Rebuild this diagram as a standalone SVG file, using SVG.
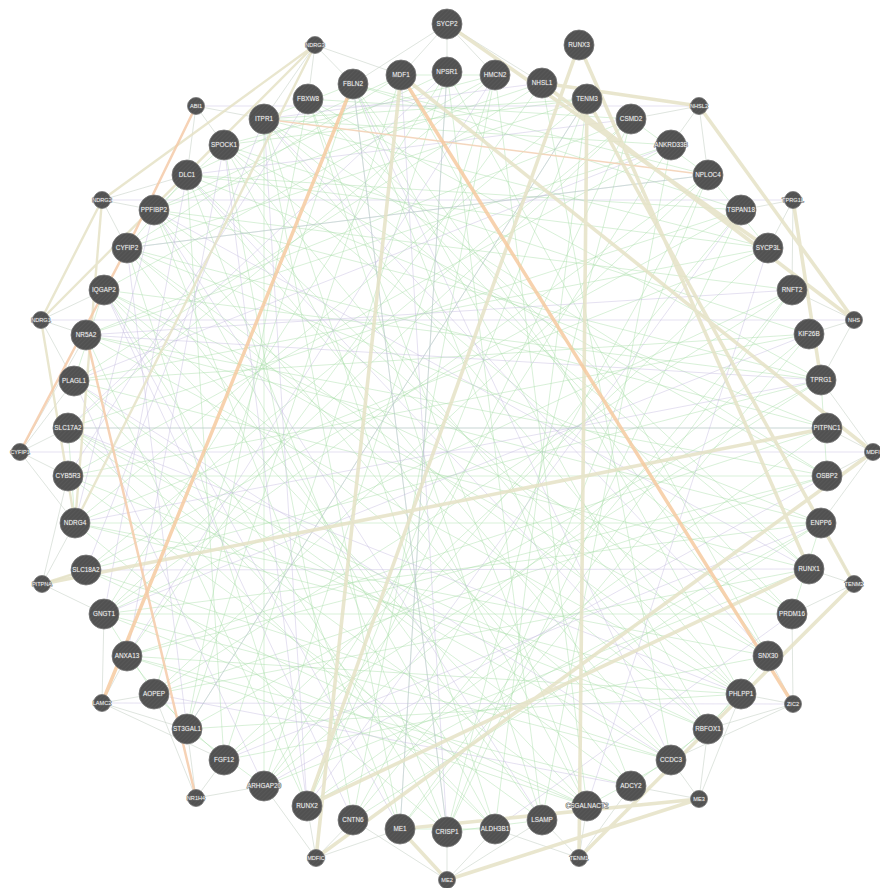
<svg xmlns="http://www.w3.org/2000/svg" width="880" height="888" viewBox="0 0 880 888">
<defs>
<pattern id="hatch" width="3" height="3" patternUnits="userSpaceOnUse" patternTransform="rotate(45)">
<rect width="3" height="3" fill="#515151"/>
<line x1="0" y1="0" x2="0" y2="3" stroke="#5e5e5e" stroke-width="1"/>
</pattern>
</defs>
<style>
.g{fill:none;stroke:#a6dca6;stroke-width:0.8;stroke-opacity:0.55}
.p{fill:none;stroke:#c4bade;stroke-width:0.8;stroke-opacity:0.55}
.s{fill:none;stroke:#cdd6cd;stroke-width:0.8;stroke-opacity:0.8}
.b{fill:none;stroke:#e5e2c6;stroke-width:3.6;stroke-opacity:0.85;stroke-linecap:round}
.bt{fill:none;stroke:#e5e2c6;stroke-width:2.4;stroke-opacity:0.85}
.o{fill:none;stroke:#f6caa0;stroke-width:3.5;stroke-opacity:0.85}
.ot{fill:none;stroke:#f3d2b6;stroke-width:1.3;stroke-opacity:0.9}
.node circle{fill:url(#hatch);stroke:#767676;stroke-width:0.8}
.node text{font-family:"Liberation Sans",Arial,sans-serif;fill:#f4f4f4;text-anchor:middle;stroke:#666666;stroke-width:1.1;paint-order:stroke;stroke-linejoin:round}
.L text{font-size:6.4px}
.S text{font-size:5.6px}
</style>
<rect width="880" height="888" fill="#ffffff"/>
<g id="connectors">
<path class="g" d="M401 75L741 694M401 75L187 729M401 75L127 248M447 72L768 656M447 72L104 614M447 72L400 829M495 75L587 806M495 75L68 428M495 75L264 786M542 83L671 760M542 83L154 210M542 83L127 656M587 99L307 806M587 99L224 145M587 99L75 523M631 119L447 832M631 119L86 335M631 119L104 614M671 145L264 786M671 145L264 119M671 145L542 820M708 175L154 694M708 175L127 248M708 175L353 820M741 210L86 570M741 210L353 84M741 210L447 832M768 248L224 760M768 248L74 381M768 248L187 175M792 290L104 614M792 290L154 210M792 290L400 829M809 334L68 476M809 334L224 145M809 334L264 786M821 380L187 729M821 380L104 290M821 380L308 99M827 428L68 428M827 428L187 175M827 428L307 806M827 476L127 656M827 476L264 119M827 476L86 335M821 523L75 523M821 523L127 248M821 523L353 820M809 569L74 381M809 569L308 99M809 569L154 694M792 614L104 290M792 614L104 614M792 614L224 145M768 656L154 210M768 656L75 523M768 656L224 760M741 694L86 335M741 694L264 119M741 694L127 656M708 729L127 248M708 729L68 476M708 729L353 84M671 760L187 175M671 760L68 428M671 760L104 614M631 786L154 210M631 786L353 84M631 786L74 381M587 806L224 145M587 806L104 290M587 806L86 570M542 820L308 99M542 820L127 248M542 820L447 72M495 829L264 119M495 829L587 99M495 829L68 428M447 832L187 175M447 832L708 175M447 832L104 290M400 829L154 210M400 829L809 334M400 829L264 119M353 820L224 145M353 820L792 290M353 820L495 75M307 806L127 248M307 806L821 523M307 806L631 119M264 786L264 119M264 786L809 569M264 786L741 210M224 760L187 175M224 760L447 72M224 760L821 380M187 729L308 99M187 729L741 694M187 729L587 99M154 694L353 84M154 694L792 290M154 694L827 476M127 656L587 806M127 656L631 786M127 656L827 428M104 614L708 175M104 614L587 806M104 614L821 523M86 570L631 119M86 570L671 760M86 570L821 380M75 523L768 248M75 523L447 832M75 523L741 694M68 476L671 145M68 476L827 476M68 476L542 820M68 428L741 210M68 428L708 729M68 428L587 806M74 381L809 334M74 381L495 829M74 381L542 83M86 335L821 523M86 335L671 145M86 335L307 806M104 290L768 656M104 290L495 75M104 290L671 760M127 248L587 99M127 248L741 694M127 248L827 428M154 210L447 72M154 210L821 380M154 210L495 829M187 175L401 75M187 175L741 694M187 175L741 210M224 145L495 75M224 145L827 476M224 145L708 729M264 119L768 248M264 119L809 569M264 119L587 99M308 99L631 119M308 99L792 614M308 99L587 806M353 84L708 175M353 84L768 656M353 84L447 832M187 729L127 656M154 694L104 614M264 786L187 729M224 760L154 694M768 656L708 729M741 694L671 760M708 729L631 786M671 760L587 806M708 175L768 248M631 119L708 175M154 210L224 145M127 248L187 175M74 381L104 290M75 523L68 428M821 380L827 476M821 523L792 614M495 829L400 829M542 820L447 832M401 75L495 75M264 119L353 84"/>
<path class="p" d="M401 75L447 832M447 72L68 428M495 75L127 656M587 99L187 729M671 145L74 381M741 210L307 806M792 290L86 335M821 380L75 523M827 476L264 786M809 569L86 570M768 656L264 119M708 729L187 175M631 786L154 694M542 820L154 210M447 832L353 84M353 820L104 290M264 786L74 381M187 729L127 248M127 656L224 145M86 570L264 119M68 476L308 99M68 428L827 428M86 335L821 380M127 248L708 175M187 175L631 119M264 119L542 83M353 84L671 760M809 334L104 614M821 523L224 760M792 614L495 829M741 694L68 428M587 806L768 248M400 829L447 72M307 806L264 119M104 614L187 175M75 523L154 210M74 381L671 760M104 290L400 829M154 210L809 569M224 145L307 806M196 106L699 106M41 320L854 320M102 703L793 704M102 200L793 200M20 452L873 452"/>
<path class="s" d="M102 703L104 614M102 703L127 656M102 703L154 694M102 703L187 729M102 703L224 760M196 798L187 729M196 798L224 760M196 798L154 694M196 798L264 786M793 704L741 694M793 704L708 729M793 704L671 760M793 704L792 614M793 704L768 656M699 799L708 729M699 799L671 760M699 799L631 786M699 799L741 694M579 858L587 806M579 858L542 820M579 858L631 786M579 858L495 829M316 858L307 806M316 858L353 820M316 858L264 786M316 858L400 829M447 880L447 832M447 880L495 829M447 880L353 820M447 880L542 820M42 584L104 614M42 584L86 570M42 584L75 523M42 584L68 476M20 452L68 428M20 452L68 476M20 452L74 381M20 452L75 523M20 452L86 335M41 320L86 335M41 320L104 290M41 320L74 381M102 200L154 210M102 200L127 248M102 200L187 175M196 106L264 119M196 106L224 145M196 106L187 175M315 45L308 99M315 45L353 84M315 45L401 75M315 45L264 119M447 24L401 75M447 24L447 72M447 24L495 75M447 24L353 84M447 24L542 83M699 106L671 145M699 106L708 175M699 106L631 119M793 200L741 210M793 200L768 248M793 200L792 290M854 320L792 290M854 320L809 334M854 320L821 380M873 452L827 428M873 452L827 476M873 452L821 380M873 452L821 523M854 584L821 523M854 584L809 569M854 584L792 614"/>
<path class="ot" d="M264 119L708 175"/>
<path class="bt" d="M41 320L102 200M41 320L75 523M102 200L75 523M315 45L102 200M315 45L41 320M315 45L75 523M42 584L86 570"/>
<path class="b" d="M447 24L768 248M542 83L699 106M542 83L854 320M699 106L854 320M579 45L307 806M579 45L809 569M809 569L307 806M587 99L579 858M587 99L854 584M579 858L854 584M401 75L316 858M401 75L873 452M316 858L873 452M400 829L447 880M447 880L699 799M400 829L699 799M42 584L827 428M793 200L821 380"/>
<path class="o" d="M401 75L793 704M353 84L102 703"/>
<path class="o" style="stroke-width:2.5;stroke:#f4caa8" d="M86 335L196 798M196 106L127 248M127 248L20 452"/>
</g>
<g id="nodes">
<g id="n-SYCP2" class="node L"><circle cx="447" cy="24" r="15"/><text x="447" y="26.3">SYCP2</text></g>
<g id="n-MDF1" class="node L"><circle cx="401" cy="75" r="15"/><text x="401" y="77.3">MDF1</text></g>
<g id="n-NPSR1" class="node L"><circle cx="447" cy="72" r="15"/><text x="447" y="74.3">NPSR1</text></g>
<g id="n-HMCN2" class="node L"><circle cx="495" cy="75" r="15"/><text x="495" y="77.3">HMCN2</text></g>
<g id="n-NHSL1" class="node L"><circle cx="542" cy="83" r="15"/><text x="542" y="85.3">NHSL1</text></g>
<g id="n-RUNX3" class="node L"><circle cx="579" cy="45" r="15"/><text x="579" y="47.3">RUNX3</text></g>
<g id="n-TENM3" class="node L"><circle cx="587" cy="99" r="15"/><text x="587" y="101.3">TENM3</text></g>
<g id="n-CSMD2" class="node L"><circle cx="631" cy="119" r="15"/><text x="631" y="121.3">CSMD2</text></g>
<g id="n-ANKRD33B" class="node L"><circle cx="671" cy="145" r="15"/><text x="671" y="147.3">ANKRD33B</text></g>
<g id="n-NPLOC4" class="node L"><circle cx="708" cy="175" r="15"/><text x="708" y="177.3">NPLOC4</text></g>
<g id="n-TSPAN18" class="node L"><circle cx="741" cy="210" r="15"/><text x="741" y="212.3">TSPAN18</text></g>
<g id="n-SYCP3L" class="node L"><circle cx="768" cy="248" r="15"/><text x="768" y="250.3">SYCP3L</text></g>
<g id="n-RNFT2" class="node L"><circle cx="792" cy="290" r="15"/><text x="792" y="292.3">RNFT2</text></g>
<g id="n-KIF26B" class="node L"><circle cx="809" cy="334" r="15"/><text x="809" y="336.3">KIF26B</text></g>
<g id="n-TPRG1" class="node L"><circle cx="821" cy="380" r="15"/><text x="821" y="382.3">TPRG1</text></g>
<g id="n-PITPNC1" class="node L"><circle cx="827" cy="428" r="15"/><text x="827" y="430.3">PITPNC1</text></g>
<g id="n-OSBP2" class="node L"><circle cx="827" cy="476" r="15"/><text x="827" y="478.3">OSBP2</text></g>
<g id="n-ENPP6" class="node L"><circle cx="821" cy="523" r="15"/><text x="821" y="525.3">ENPP6</text></g>
<g id="n-RUNX1" class="node L"><circle cx="809" cy="569" r="15"/><text x="809" y="571.3">RUNX1</text></g>
<g id="n-PRDM16" class="node L"><circle cx="792" cy="614" r="15"/><text x="792" y="616.3">PRDM16</text></g>
<g id="n-SNX30" class="node L"><circle cx="768" cy="656" r="15"/><text x="768" y="658.3">SNX30</text></g>
<g id="n-PHLPP1" class="node L"><circle cx="741" cy="694" r="15"/><text x="741" y="696.3">PHLPP1</text></g>
<g id="n-RBFOX1" class="node L"><circle cx="708" cy="729" r="15"/><text x="708" y="731.3">RBFOX1</text></g>
<g id="n-CCDC3" class="node L"><circle cx="671" cy="760" r="15"/><text x="671" y="762.3">CCDC3</text></g>
<g id="n-ADCY2" class="node L"><circle cx="631" cy="786" r="15"/><text x="631" y="788.3">ADCY2</text></g>
<g id="n-CSGALNACT2" class="node L"><circle cx="587" cy="806" r="15"/><text x="587" y="808.3">CSGALNACT2</text></g>
<g id="n-LSAMP" class="node L"><circle cx="542" cy="820" r="15"/><text x="542" y="822.3">LSAMP</text></g>
<g id="n-ALDH3B1" class="node L"><circle cx="495" cy="829" r="15"/><text x="495" y="831.3">ALDH3B1</text></g>
<g id="n-CRISP1" class="node L"><circle cx="447" cy="832" r="15"/><text x="447" y="834.3">CRISP1</text></g>
<g id="n-ME1" class="node L"><circle cx="400" cy="829" r="15"/><text x="400" y="831.3">ME1</text></g>
<g id="n-CNTN6" class="node L"><circle cx="353" cy="820" r="15"/><text x="353" y="822.3">CNTN6</text></g>
<g id="n-RUNX2" class="node L"><circle cx="307" cy="806" r="15"/><text x="307" y="808.3">RUNX2</text></g>
<g id="n-ARHGAP20" class="node L"><circle cx="264" cy="786" r="15"/><text x="264" y="788.3">ARHGAP20</text></g>
<g id="n-FGF12" class="node L"><circle cx="224" cy="760" r="15"/><text x="224" y="762.3">FGF12</text></g>
<g id="n-ST3GAL1" class="node L"><circle cx="187" cy="729" r="15"/><text x="187" y="731.3">ST3GAL1</text></g>
<g id="n-AOPEP" class="node L"><circle cx="154" cy="694" r="15"/><text x="154" y="696.3">AOPEP</text></g>
<g id="n-ANXA13" class="node L"><circle cx="127" cy="656" r="15"/><text x="127" y="658.3">ANXA13</text></g>
<g id="n-GNGT1" class="node L"><circle cx="104" cy="614" r="15"/><text x="104" y="616.3">GNGT1</text></g>
<g id="n-SLC18A2" class="node L"><circle cx="86" cy="570" r="15"/><text x="86" y="572.3">SLC18A2</text></g>
<g id="n-NDRG4" class="node L"><circle cx="75" cy="523" r="15"/><text x="75" y="525.3">NDRG4</text></g>
<g id="n-CYB5R3" class="node L"><circle cx="68" cy="476" r="15"/><text x="68" y="478.3">CYB5R3</text></g>
<g id="n-SLC17A2" class="node L"><circle cx="68" cy="428" r="15"/><text x="68" y="430.3">SLC17A2</text></g>
<g id="n-PLAGL1" class="node L"><circle cx="74" cy="381" r="15"/><text x="74" y="383.3">PLAGL1</text></g>
<g id="n-NR5A2" class="node L"><circle cx="86" cy="335" r="15"/><text x="86" y="337.3">NR5A2</text></g>
<g id="n-IQGAP2" class="node L"><circle cx="104" cy="290" r="15"/><text x="104" y="292.3">IQGAP2</text></g>
<g id="n-CYFIP2" class="node L"><circle cx="127" cy="248" r="15"/><text x="127" y="250.3">CYFIP2</text></g>
<g id="n-PPFIBP2" class="node L"><circle cx="154" cy="210" r="15"/><text x="154" y="212.3">PPFIBP2</text></g>
<g id="n-DLC1" class="node L"><circle cx="187" cy="175" r="15"/><text x="187" y="177.3">DLC1</text></g>
<g id="n-SPOCK1" class="node L"><circle cx="224" cy="145" r="15"/><text x="224" y="147.3">SPOCK1</text></g>
<g id="n-ITPR1" class="node L"><circle cx="264" cy="119" r="15"/><text x="264" y="121.3">ITPR1</text></g>
<g id="n-FBXW8" class="node L"><circle cx="308" cy="99" r="15"/><text x="308" y="101.3">FBXW8</text></g>
<g id="n-FBLN2" class="node L"><circle cx="353" cy="84" r="15"/><text x="353" y="86.3">FBLN2</text></g>
<g id="n-NDRG3" class="node S"><circle cx="315" cy="45" r="8.5"/><text x="315" y="47">NDRG3</text></g>
<g id="n-ABI1" class="node S"><circle cx="196" cy="106" r="8.5"/><text x="196" y="108">ABI1</text></g>
<g id="n-NDRG2" class="node S"><circle cx="102" cy="200" r="8.5"/><text x="102" y="202">NDRG2</text></g>
<g id="n-NDRG1" class="node S"><circle cx="41" cy="320" r="8.5"/><text x="41" y="322">NDRG1</text></g>
<g id="n-CYFIP1" class="node S"><circle cx="20" cy="452" r="8.5"/><text x="20" y="454">CYFIP1</text></g>
<g id="n-PITPNA" class="node S"><circle cx="42" cy="584" r="8.5"/><text x="42" y="586">PITPNA</text></g>
<g id="n-LAMC2" class="node S"><circle cx="102" cy="703" r="8.5"/><text x="102" y="705">LAMC2</text></g>
<g id="n-NR1H4" class="node S"><circle cx="196" cy="798" r="8.5"/><text x="196" y="800">NR1H4</text></g>
<g id="n-MDFIC" class="node S"><circle cx="316" cy="858" r="8.5"/><text x="316" y="860">MDFIC</text></g>
<g id="n-ME2" class="node S"><circle cx="447" cy="880" r="8.5"/><text x="447" y="882">ME2</text></g>
<g id="n-TENM1" class="node S"><circle cx="579" cy="858" r="8.5"/><text x="579" y="860">TENM1</text></g>
<g id="n-ME3" class="node S"><circle cx="699" cy="799" r="8.5"/><text x="699" y="801">ME3</text></g>
<g id="n-ZIC2" class="node S"><circle cx="793" cy="704" r="8.5"/><text x="793" y="706">ZIC2</text></g>
<g id="n-TENM2" class="node S"><circle cx="854" cy="584" r="8.5"/><text x="854" y="586">TENM2</text></g>
<g id="n-MDFI" class="node S"><circle cx="873" cy="452" r="8.5"/><text x="873" y="454">MDFI</text></g>
<g id="n-NHS" class="node S"><circle cx="854" cy="320" r="8.5"/><text x="854" y="322">NHS</text></g>
<g id="n-TPRG1L" class="node S"><circle cx="793" cy="200" r="8.5"/><text x="793" y="202">TPRG1L</text></g>
<g id="n-NHSL2" class="node S"><circle cx="699" cy="106" r="8.5"/><text x="699" y="108">NHSL2</text></g>
</g>
</svg>
